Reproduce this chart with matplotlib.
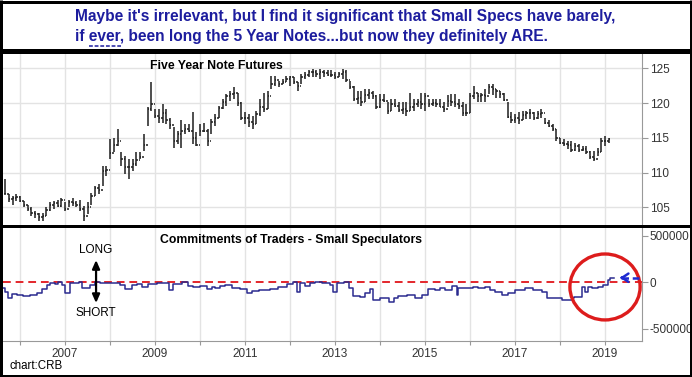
import numpy as np
import matplotlib.pyplot as plt
from matplotlib.patches import Ellipse
from matplotlib.lines import Line2D

plt.rcParams['font.family'] = ['Liberation Sans', 'DejaVu Sans']

# Five Year Note futures, monthly bars starting Sep 2005
bar_start = 2005 + 8 / 12
high = [109.0, 106.9, 106.6, 106.9, 106.6, 105.9, 105.4, 105.0, 104.5, 104.2, 104.2, 105.0,
        105.7, 105.9, 106.1, 106.4, 105.7, 106.1, 106.4, 105.9, 106.1, 105.2, 105.7, 107.1,
        108.1, 108.3, 111.0, 111.0, 114.8, 115.0, 116.2, 112.9, 112.4, 111.9, 111.9, 112.9,
        112.9, 115.5, 119.4, 123.0, 119.1, 119.1, 119.9, 119.1, 117.9, 116.5, 116.0, 117.5,
        117.0, 117.0, 118.7, 115.8, 117.0, 117.2, 116.3, 117.7, 118.4, 119.6, 120.6, 121.3,
        121.8, 122.3, 121.5, 120.1, 118.7, 118.4, 118.2, 118.9, 120.6, 121.5, 121.8, 123.9,
        123.9, 123.2, 123.5, 123.9, 123.9, 123.7, 123.0, 124.2, 124.4, 124.7, 124.9, 124.7,
        124.9, 124.7, 124.7, 124.7, 124.4, 124.4, 124.9, 124.7, 123.2, 122.5, 121.8, 121.8,
        122.0, 122.0, 121.8, 121.1, 121.3, 121.3, 120.1, 120.6, 120.6, 120.1, 120.1, 120.1,
        121.5, 120.6, 120.6, 121.5, 121.5, 120.6, 120.6, 120.6, 120.6, 120.1, 121.1, 121.3,
        121.3, 120.6, 120.1, 119.9, 121.5, 122.5, 121.5, 121.5, 122.0, 122.7, 122.7, 122.0,
        121.8, 121.5, 120.1, 118.7, 118.4, 118.7, 118.9, 118.9, 119.1, 118.7, 118.9, 119.1,
        117.9, 117.5, 117.0, 116.3, 115.0, 114.8, 114.6, 114.6, 114.3, 114.1, 113.8, 113.8,
        113.1, 113.1, 113.6, 115.0, 115.3, 115.0]
low = [106.9, 105.7, 105.4, 105.9, 105.7, 105.0, 104.5, 103.8, 103.5, 103.0, 103.0, 103.8,
       104.5, 104.7, 105.0, 105.0, 104.5, 105.0, 105.2, 105.0, 104.5, 103.0, 104.0, 105.4,
       106.6, 106.9, 108.1, 109.5, 111.9, 112.9, 113.8, 111.0, 109.8, 109.0, 110.2, 111.0,
       111.9, 113.1, 116.7, 118.9, 117.9, 117.2, 117.2, 117.0, 116.3, 113.6, 114.1, 113.6,
       115.5, 115.8, 114.1, 113.8, 115.3, 115.8, 113.8, 115.5, 116.7, 117.9, 119.1, 119.6,
       120.3, 120.6, 119.6, 117.5, 117.0, 116.5, 116.3, 117.0, 118.2, 118.7, 119.1, 122.0,
       122.5, 122.3, 122.7, 123.0, 122.5, 122.7, 121.8, 122.7, 123.5, 123.7, 123.7, 123.7,
       123.5, 123.7, 123.9, 123.7, 123.5, 123.7, 123.5, 123.0, 122.0, 120.3, 119.9, 119.6,
       120.1, 120.6, 120.6, 119.1, 119.3, 120.1, 118.4, 118.9, 119.4, 118.7, 118.4, 118.2,
       118.9, 118.9, 119.4, 119.1, 118.9, 119.4, 119.6, 119.4, 119.4, 118.7, 119.4, 119.6,
       119.4, 119.1, 118.2, 118.2, 118.5, 120.6, 120.1, 120.1, 120.1, 121.3, 121.1, 120.8,
       120.8, 120.3, 117.9, 117.2, 117.2, 117.0, 117.5, 117.7, 117.7, 117.5, 117.7, 117.9,
       117.0, 116.5, 116.0, 114.6, 114.1, 113.8, 113.4, 112.9, 113.1, 112.9, 113.1, 112.6,
       111.9, 111.7, 112.4, 112.9, 113.8, 114.3]
close = [106.9, 106.2, 106.4, 106.5, 105.9, 105.3, 104.8, 104.2, 104.0, 103.6, 103.8, 104.6,
         105.3, 105.6, 105.2, 106.0, 104.8, 105.8, 105.6, 105.3, 104.7, 103.8, 105.0, 106.6,
         107.8, 107.5, 110.2, 110.3, 112.8, 114.0, 114.6, 112.0, 110.8, 110.8, 111.2, 111.8,
         112.3, 114.0, 119.2, 119.9, 118.2, 117.8, 118.5, 117.5, 116.8, 114.5, 115.5, 116.0,
         116.2, 116.0, 115.0, 114.0, 116.0, 116.0, 114.5, 117.3, 117.8, 119.3, 120.2, 121.0,
         121.3, 121.5, 120.0, 117.8, 117.8, 117.3, 117.0, 118.4, 119.5, 119.2, 121.0, 122.8,
         123.3, 122.8, 123.1, 123.5, 123.7, 123.0, 122.5, 123.8, 124.0, 124.4, 124.5, 124.2,
         124.5, 124.3, 124.0, 124.0, 123.8, 124.2, 124.5, 123.3, 122.3, 120.6, 120.8, 120.2,
         121.2, 121.5, 121.0, 119.4, 120.5, 120.3, 118.8, 119.8, 119.6, 119.0, 119.2, 118.8,
         119.5, 119.8, 120.1, 119.8, 121.0, 119.8, 120.0, 119.9, 119.5, 119.2, 120.3, 120.2,
         119.8, 119.6, 118.6, 118.5, 121.0, 121.5, 121.0, 121.2, 121.0, 122.3, 122.0, 121.8,
         121.3, 120.5, 118.0, 117.5, 117.8, 117.6, 118.3, 118.5, 118.6, 117.8, 118.4, 118.5,
         117.2, 116.7, 116.2, 115.0, 114.3, 114.1, 113.9, 113.2, 113.8, 113.3, 113.4, 112.9,
         112.2, 112.0, 113.0, 114.5, 114.6, 114.8]

# Commitments of Traders, small speculators net position (step changes)
cot_dates = [
    2005.58, 2005.67, 2005.74, 2005.82, 2005.93,
    2006.07, 2006.22, 2006.37, 2006.48, 2006.59, 2006.67, 2006.78, 2006.85, 2006.93,
    2007.00, 2007.11, 2007.30, 2007.37, 2007.56, 2007.67, 2007.78,
    2008.11, 2008.22, 2008.33, 2008.48, 2008.59, 2008.70, 2008.85,
    2009.04, 2009.30, 2009.41, 2009.59, 2009.74, 2009.85,
    2010.00, 2010.15, 2010.26, 2010.33, 2010.44, 2010.56, 2010.70, 2010.89,
    2011.04, 2011.15, 2011.30, 2011.56, 2011.74, 2011.93,
    2012.07, 2012.15, 2012.22, 2012.33, 2012.44, 2012.56, 2012.70, 2012.89, 2012.96,
    2013.04, 2013.19, 2013.30, 2013.41, 2013.56, 2013.67, 2013.78, 2013.85,
    2014.00, 2014.19, 2014.30, 2014.41, 2014.59, 2014.78, 2014.93,
    2015.07, 2015.22, 2015.33, 2015.44, 2015.59, 2015.70, 2015.74,
    2016.07, 2016.18, 2016.33, 2016.44, 2016.56, 2016.70, 2016.85,
    2017.00, 2017.22, 2017.41, 2017.59, 2017.70,
    2018.04, 2018.26, 2018.30, 2018.48, 2018.56, 2018.63, 2018.70, 2018.85, 2018.96,
    2019.06, 2019.11, 2019.19]
cot_values = [
    -57000, -100000, -171000, -128000, -135000,
    -143000, -135000, -118000, -71000, -29000, -11000, -21000, 0, -29000,
    -118000, -11000, 7000, -64000, -29000, 7000, -7000,
    -11000, -29000, -71000, -29000, -21000, -46000, -21000,
    -4000, -82000, -21000, 0, -36000, -46000,
    -36000, -71000, -46000, -64000, -36000, -29000, -57000, -71000,
    -118000, -93000, -82000, -71000, -46000, -21000,
    7000, -100000, -11000, -36000, -11000, 7000, -11000, -29000, -107000,
    -11000, 7000, -64000, -143000, -153000, -118000, -71000, -189000,
    -171000, -214000, -171000, -143000, -135000, -171000, -132000,
    -68000, -82000, -64000, -82000, -39000, -136000, -64000,
    -46000, -64000, -46000, -82000, -100000, -136000, -118000,
    -82000, -64000, -82000, -100000, -171000,
    -189000, -171000, -153000, -46000, -100000, -46000, -64000, -46000, -29000,
    25000, 50000, 50000]

years = list(range(2006, 2020))
year_labels = ['', '2007', '', '2009', '', '2011', '', '2013', '', '2015', '', '2017', '', '2019']
price_ticks = [105, 110, 115, 120, 125]
cot_ticks = [-500000, 0, 500000]
cot_labels = ['-500000', '0', '500000']

title1 = "Maybe it's irrelevant, but I find it significant that Small Specs have barely,"
title2 = "if ever, been long the 5 Year Notes...but now they definitely ARE."

W, H = 692, 377


def fx(x):
    return x / W


def fy(y):
    return 1 - y / H


fig = plt.figure(figsize=(W / 100, H / 100), dpi=100)

ax1 = fig.add_axes([fx(3), fy(225), 639 / W, 173 / H])
ax2 = fig.add_axes([fx(3), fy(341), 639 / W, 114 / H])

grid_c = '#e3e3e3'
axis_c = '#999999'

for ax in (ax1, ax2):
    for s in ('left', 'top', 'bottom'):
        ax.spines[s].set_visible(False)
    ax.spines['right'].set_color(axis_c)
    ax.set_xlim(2005.622, 2019.822)
    ax.set_xticks(years)
    ax.xaxis.grid(True, color=grid_c, lw=1)
    ax.set_axisbelow(True)
    ax.yaxis.tick_right()
    ax.tick_params(axis='y', colors=axis_c, labelcolor='#333333', length=4,
                   labelsize=8.5, pad=1.5)

# price bars
ax1.set_ylim(102.45, 127.35)
ax1.set_yticks(price_ticks)
ax1.yaxis.grid(True, color=grid_c, lw=1)
ax1.tick_params(axis='x', length=0, labelbottom=False)
xs = bar_start + np.arange(len(close)) / 12
opens = [close[0]] + close[:-1]
bar_c = '#1e1e1e'
ax1.vlines(xs, low, high, color=bar_c, lw=1.1)
ax1.hlines(opens, xs - 0.03, xs, color=bar_c, lw=1.1)
ax1.hlines(close, xs, xs + 0.03, color=bar_c, lw=1.1)

# COT panel
ax2.set_ylim(-628500, 592000)
ax2.set_yticks(cot_ticks)
ax2.set_yticklabels(cot_labels)
ax2.spines['bottom'].set_visible(True)
ax2.spines['bottom'].set_color(axis_c)
ax2.set_xticklabels(year_labels)
ax2.tick_params(axis='x', colors=axis_c, labelcolor='#333333', length=3,
                labelsize=8.5, pad=2)
ax2.axhline(0, color='#e3262b', ls=(0, (4, 2.5)), lw=1.4, zorder=2)
ax2.step(cot_dates, cot_values, where='post', color='#2b2b8f', lw=1.1, zorder=3)

ax2.add_patch(Ellipse((2019.0, -50000), 1.56, 706000, fill=False,
                      edgecolor='#dd1c1c', lw=2.4, clip_on=False, zorder=4))
ax2.plot([2019.36, 2019.75], [49000, 49000], color='#1f2bd1', lw=1.8,
         ls=(0, (3, 1.5)), zorder=5)
ax2.annotate('', xy=(2019.27, 49000), xytext=(2019.45, 49000),
             arrowprops=dict(arrowstyle='->,head_length=0.45,head_width=0.3',
                             color='#1f2bd1', lw=1.8), zorder=5)

ax2.annotate('', xy=(2007.69, 268000), xytext=(2007.69, -252000),
             arrowprops=dict(arrowstyle='<|-|>,head_length=0.5,head_width=0.22',
                             color='black', lw=1.6), zorder=5)
ax2.text(2007.69, 343000, 'LONG', ha='center', va='center', fontsize=8.5)
ax2.text(2007.69, -329000, 'SHORT', ha='center', va='center', fontsize=8.5)

fig.text(fx(216), fy(66), 'Five Year Note Futures', ha='center', va='center',
         fontsize=8.8, fontweight='bold')
fig.text(fx(291), fy(240), 'Commitments of Traders - Small Speculators', ha='center',
         va='center', fontsize=8.8, fontweight='bold')
fig.text(fx(9), fy(366), 'chart:CRB', ha='left', va='center', fontsize=8.3)

# headline, fitted to the reference width
title_c = '#1d1d9e'
x0 = fx(75)
t1 = fig.text(x0, fy(17), title1, ha='left', va='center', fontsize=10,
              fontweight='bold', color=title_c)
renderer = fig.canvas.get_renderer()
w = t1.get_window_extent(renderer).width
fs = 10 * 542 / w
t1.set_fontsize(fs)
t2 = fig.text(x0, fy(37), title2, ha='left', va='center', fontsize=fs,
              fontweight='bold', color=title_c)
m1 = fig.text(0, 0, 'if ever', fontsize=fs, fontweight='bold')
m2 = fig.text(0, 0, 'ever', fontsize=fs, fontweight='bold')
w_ifever = m1.get_window_extent(renderer).width
w_ever = m2.get_window_extent(renderer).width
m1.remove()
m2.remove()
u_left = 75 + w_ifever - w_ever
u_right = 75 + w_ifever
fig.add_artist(Line2D([fx(u_left), fx(u_right)], [fy(45.5), fy(45.5)], color=title_c,
                      lw=1.1, ls=(0, (2.5, 1.2)), transform=fig.transFigure))

# black frame and panel dividers
frame = [([0, W], [1.5, 1.5], 3), ([0, W], [375.5, 375.5], 3),
         ([1.5, 1.5], [0, H], 3), ([690.5, 690.5], [0, H], 3),
         ([0, W], [51, 51], 5), ([0, W], [225.5, 225.5], 3)]
for xx, yy, lw in frame:
    fig.add_artist(Line2D([fx(v) for v in xx], [fy(v) for v in yy], color='black',
                          lw=lw * 0.72, transform=fig.transFigure, solid_capstyle='butt'))

fig.savefig('out.png', dpi=100)
